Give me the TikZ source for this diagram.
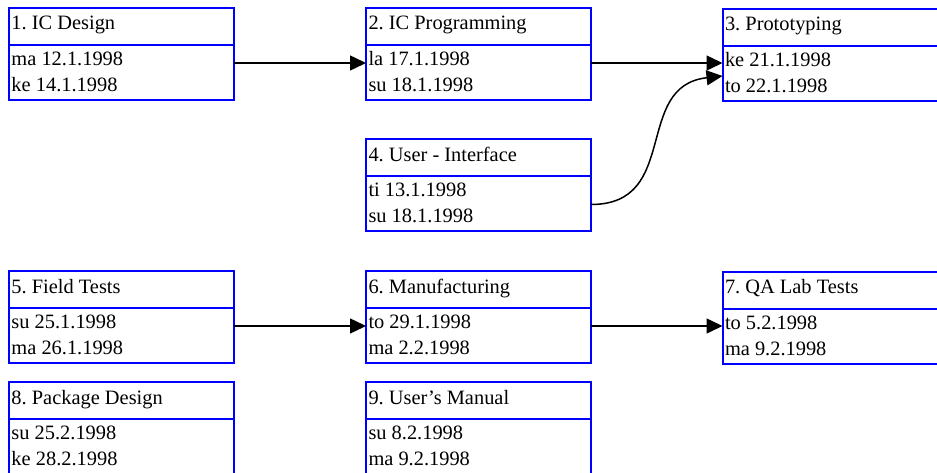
\documentclass[tikz,border=0pt]{standalone}
\usepackage{fontspec}
\setmainfont{Liberation Serif}
\usetikzlibrary{arrows.meta}
\tikzset{
  taskbox/.style={draw=blue, line width=2pt, minimum width=225pt, minimum height=92pt,
    inner sep=0pt, outer sep=0pt, anchor=north west},
  divider/.style={blue, line width=2pt},
  tasktext/.style={anchor=base west, inner sep=0pt, outer sep=0pt,
    font=\frenchspacing\fontsize{20.4pt}{24pt}\selectfont},
  link/.style={line width=1.5pt, -{Triangle[length=16pt,width=15pt]}}
}
% #1 name, #2 left x, #3 top y, #4 title, #5 first date, #6 second date
\newcommand{\taskitem}[6]{%
  \node[taskbox] (#1) at (#2,#3) {};
  \draw[divider] ({#2},{#3+37}) -- ({#2+225},{#3+37});
  \node[tasktext] (#1t) at ({#2+2.5},{#3+22}) {#4};
  \node[tasktext] (#1a) at ({#2+2.5},{#3+57.5}) {#5};
  \node[tasktext] (#1b) at ({#2+2.5},{#3+83.5}) {#6};
}
\begin{document}
\begin{tikzpicture}[x=1pt,y=-1pt]
  \useasboundingbox (0,0) rectangle (937,473);
  \taskitem{n1}{9}{8}{1. IC Design}{ma 12.1.1998}{ke 14.1.1998}
  \taskitem{n2}{366}{8}{2. IC Programming}{la 17.1.1998}{su 18.1.1998}
  \taskitem{n3}{722.5}{9}{3. Prototyping}{ke 21.1.1998}{to 22.1.1998}
  \taskitem{n4}{366}{139.5}{4. User - Interface}{ti 13.1.1998}{su 18.1.1998}
  \taskitem{n5}{9}{271}{5. Field Tests}{su 25.1.1998}{ma 26.1.1998}
  \taskitem{n6}{366}{271}{6. Manufacturing}{to 29.1.1998}{ma 2.2.1998}
  \taskitem{n7}{722.5}{271.5}{7. QA Lab Tests}{to 5.2.1998}{ma 9.2.1998}
  \taskitem{n8}{9}{382}{8. Package Design}{su 25.2.1998}{ke 28.2.1998}
  \taskitem{n9}{366}{382}{9. User’s Manual}{su 8.2.1998}{ma 9.2.1998}

  \draw[link] ([yshift=-55pt]n1.north east) -- ([yshift=-55pt]n2.north west);
  \draw[link] ([yshift=-55pt]n2.north east) -- ([yshift=-54pt]n3.north west);
  \draw[link] ([yshift=-65pt]n4.north east) .. controls +(90,0) and +(-90,10) .. ([yshift=-67pt]n3.north west);
  \draw[link] ([yshift=-55pt]n5.north east) -- ([yshift=-55pt]n6.north west);
  \draw[link] ([yshift=-55pt]n6.north east) -- ([yshift=-54.5pt]n7.north west);
\end{tikzpicture}
\end{document}
